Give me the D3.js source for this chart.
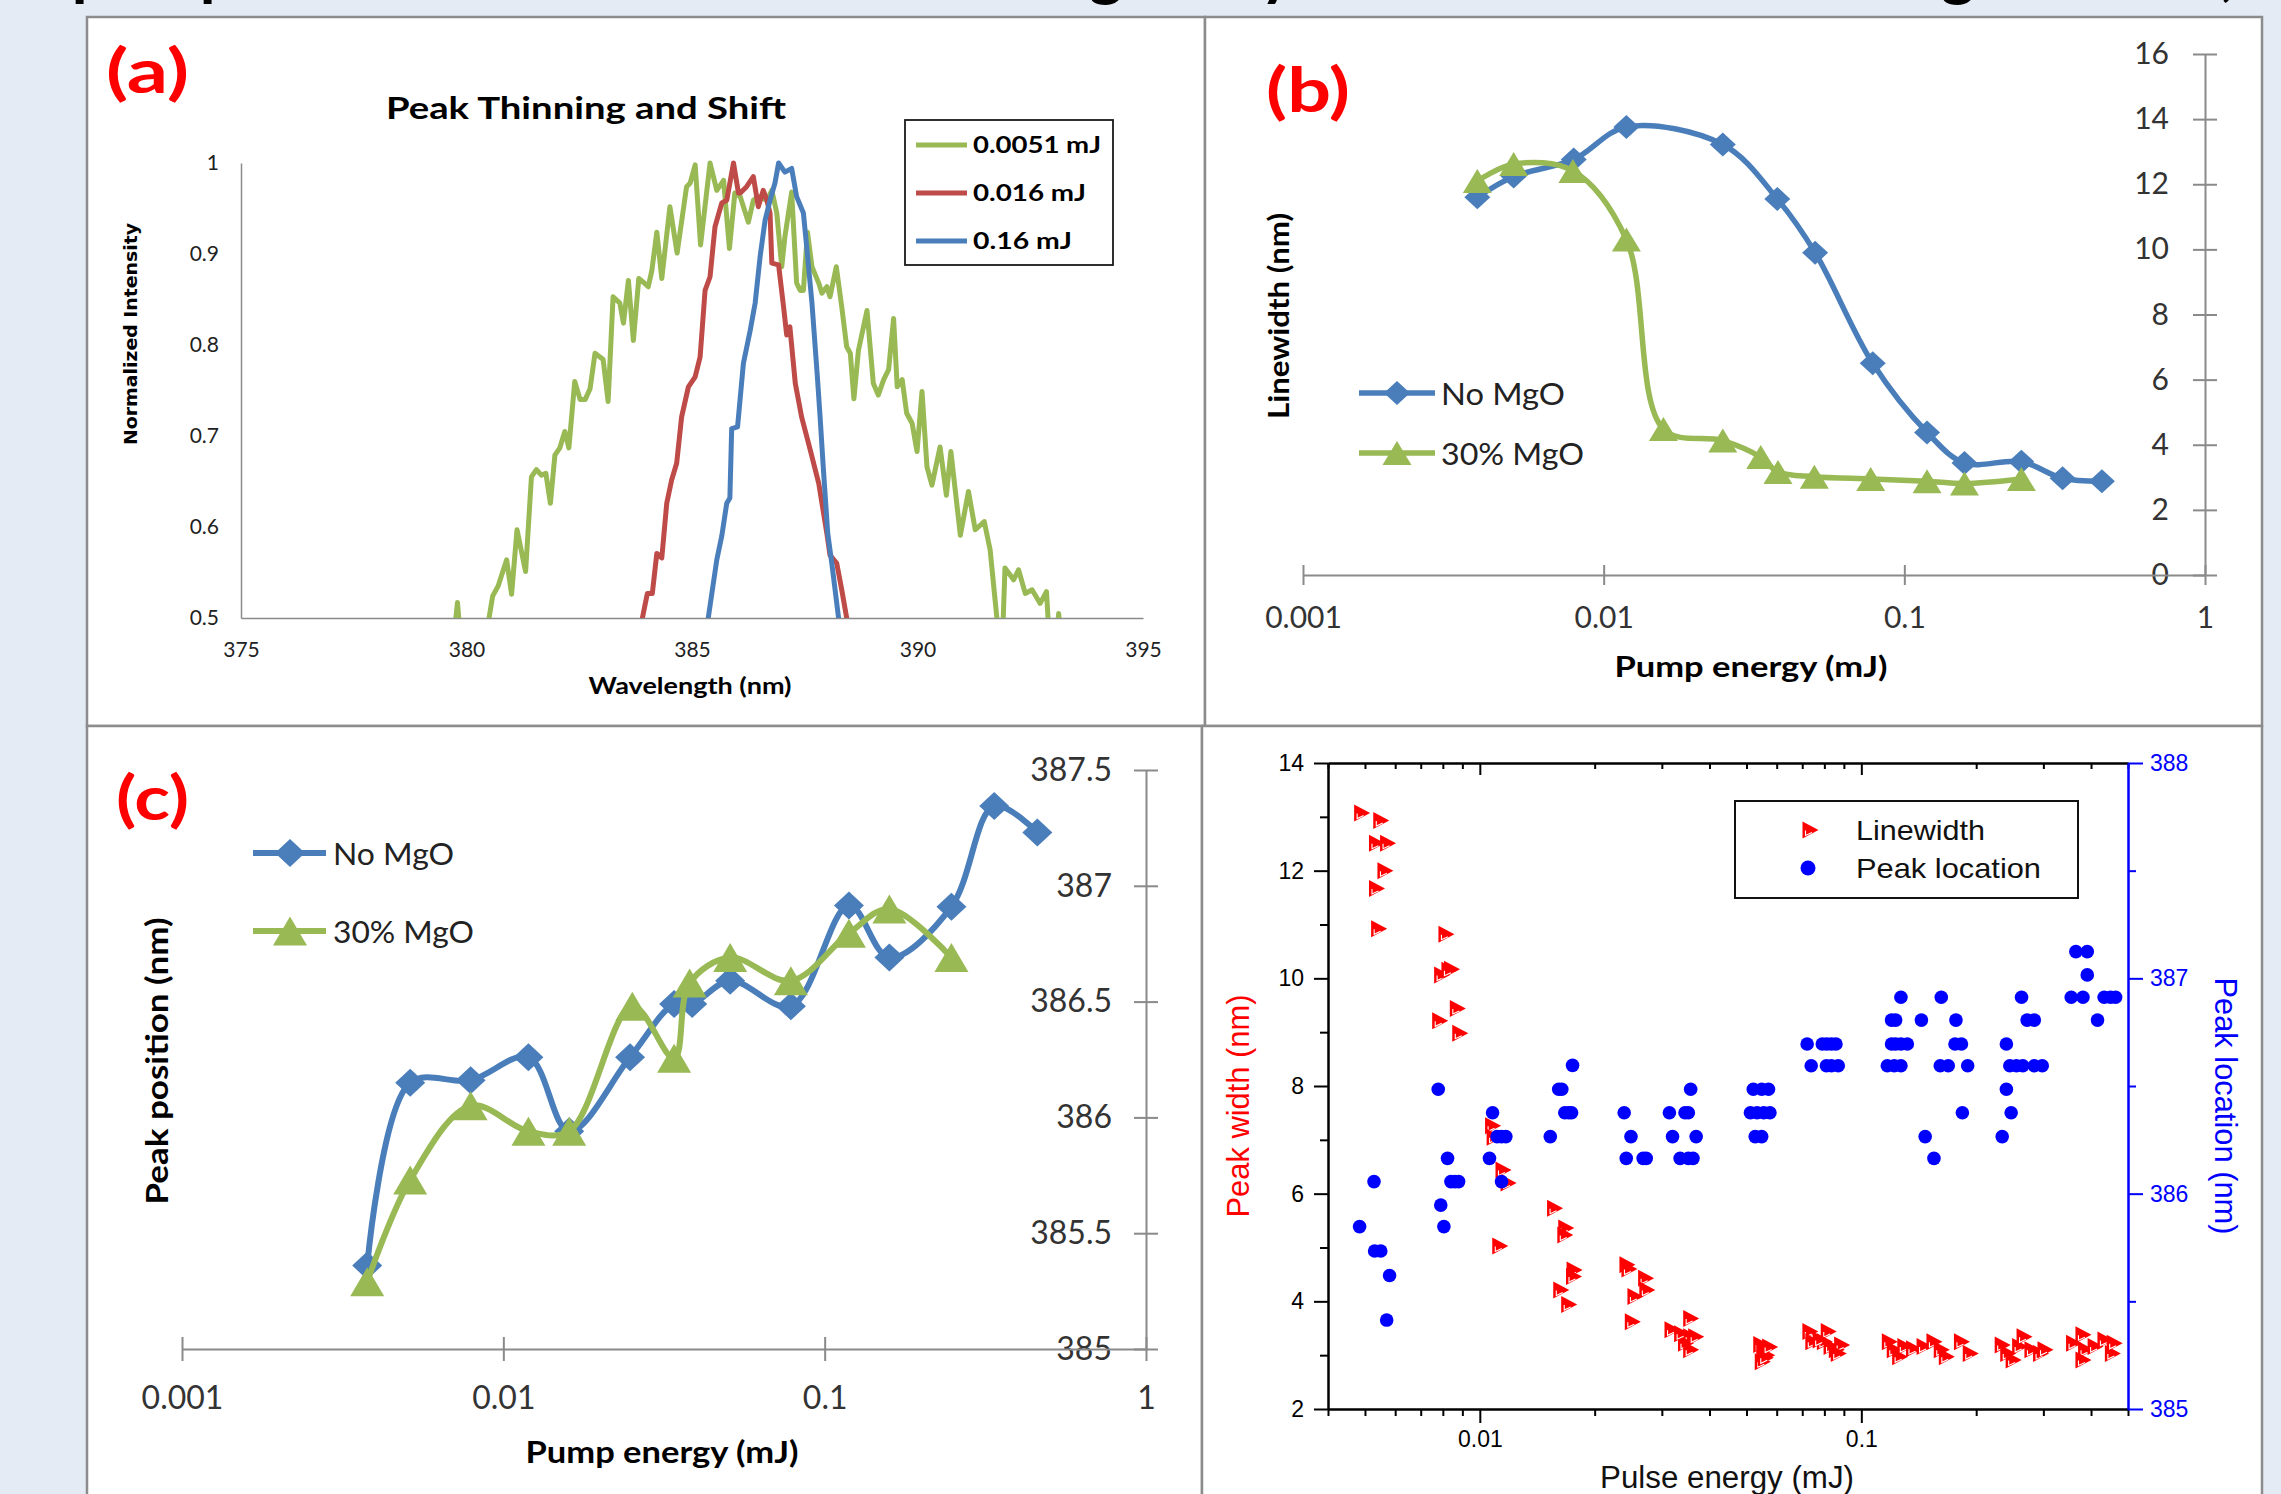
<!DOCTYPE html>
<html>
<head>
<meta charset="utf-8">
<script src="https://cdn.jsdelivr.net/npm/d3@7"></script>
<style>
body { margin: 0; background: #e4ebf5; }
svg { display: block; }
</style>
</head>
<body>
<script>
// ---------- (a) spectra : [wavelength nm, normalized intensity] ----------
var spec0051 = [[379.70,0.47],[379.80,0.517],[379.88,0.47],[380.45,0.47],[380.50,0.50],[380.58,0.524],[380.70,0.535],[380.89,0.564],[381.00,0.526],[381.12,0.597],[381.31,0.551],[381.44,0.655],[381.55,0.663],[381.66,0.657],[381.76,0.659],[381.86,0.626],[381.96,0.679],[382.07,0.687],[382.18,0.705],[382.27,0.687],[382.40,0.760],[382.52,0.740],[382.63,0.740],[382.74,0.752],[382.85,0.791],[383.03,0.784],[383.14,0.738],[383.25,0.853],[383.40,0.846],[383.48,0.824],[383.59,0.871],[383.70,0.805],[383.82,0.873],[383.92,0.869],[384.03,0.864],[384.11,0.882],[384.22,0.924],[384.33,0.873],[384.51,0.952],[384.67,0.901],[384.88,0.974],[384.96,0.978],[385.07,0.998],[385.19,0.910],[385.40,1.0],[385.55,0.970],[385.70,0.981],[385.83,0.906],[385.95,0.967],[386.07,0.963],[386.25,0.935],[386.36,0.959],[386.47,0.963],[386.66,0.959],[386.77,0.970],[386.88,0.945],[386.99,0.886],[387.06,0.919],[387.21,0.968],[387.32,0.868],[387.40,0.860],[387.47,0.860],[387.56,0.924],[387.66,0.886],[387.81,0.868],[387.88,0.857],[387.99,0.864],[388.06,0.853],[388.20,0.886],[388.32,0.842],[388.43,0.798],[388.51,0.791],[388.59,0.741],[388.69,0.794],[388.88,0.838],[389.02,0.758],[389.13,0.745],[389.25,0.762],[389.36,0.773],[389.47,0.829],[389.55,0.754],[389.66,0.762],[389.76,0.725],[389.88,0.714],[389.99,0.683],[390.10,0.749],[390.21,0.666],[390.32,0.646],[390.50,0.688],[390.64,0.635],[390.74,0.683],[390.95,0.591],[391.13,0.639],[391.28,0.597],[391.48,0.606],[391.61,0.575],[391.76,0.50],[391.80,0.47],[391.88,0.47],[391.94,0.555],[392.13,0.542],[392.24,0.553],[392.39,0.527],[392.54,0.531],[392.72,0.516],[392.86,0.529],[392.93,0.47],[393.08,0.47],[393.13,0.505],[393.20,0.47]];
var spec016 = [[383.85,0.47],[383.90,0.50],[384.01,0.527],[384.12,0.527],[384.22,0.571],[384.33,0.566],[384.44,0.626],[384.55,0.652],[384.66,0.670],[384.77,0.721],[384.92,0.754],[385.07,0.765],[385.18,0.787],[385.29,0.860],[385.40,0.875],[385.51,0.930],[385.66,0.956],[385.77,0.959],[385.84,0.978],[385.92,1.0],[386.03,0.967],[386.07,0.967],[386.21,0.974],[386.36,0.985],[386.47,0.952],[386.58,0.970],[386.66,0.959],[386.73,0.945],[386.77,0.890],[386.92,0.888],[387.03,0.842],[387.10,0.811],[387.17,0.820],[387.29,0.758],[387.43,0.721],[387.62,0.685],[387.81,0.648],[387.99,0.593],[388.06,0.569],[388.21,0.560],[388.32,0.531],[388.43,0.50],[388.48,0.47]];
var spec016b = [[385.30,0.47],[385.36,0.50],[385.55,0.564],[385.66,0.590],[385.77,0.626],[385.84,0.632],[385.88,0.708],[386.01,0.710],[386.14,0.780],[386.29,0.816],[386.40,0.846],[386.51,0.897],[386.62,0.937],[386.73,0.959],[386.84,0.978],[386.92,1.0],[387.06,0.990],[387.21,0.994],[387.32,0.963],[387.47,0.945],[387.55,0.904],[387.66,0.846],[387.78,0.765],[387.84,0.721],[387.91,0.666],[388.01,0.593],[388.10,0.560],[388.25,0.50],[388.30,0.47]];
var legendA = ['0.0051 mJ', '0.016 mJ', '0.16 mJ'];
var xTicksA = [375, 380, 385, 390, 395];
var yTicksA = [0.5, 0.6, 0.7, 0.8, 0.9, 1];

// ---------- (b) linewidth vs pump energy ----------
var energyB1 = [0.0038,0.00502,0.00795,0.0119,0.0249,0.0378,0.0505,0.0785,0.119,0.1585,0.245,0.336,0.454];
var widthB1  = [11.6,12.24,12.76,13.76,13.22,11.55,9.9,6.5,4.38,3.44,3.48,2.97,2.88];
var energyB2 = [0.0038,0.00502,0.0079,0.0119,0.0158,0.0249,0.0333,0.038,0.0502,0.0773,0.119,0.1585,0.245];
var widthB2  = [12.1,12.62,12.41,10.3,4.48,4.13,3.62,3.16,3.02,2.95,2.88,2.81,2.95];
var yTicksB = [0, 2, 4, 6, 8, 10, 12, 14, 16];
var xTicksLog = [0.001, 0.01, 0.1, 1];

// ---------- (c) peak position vs pump energy ----------
var energyC1 = [0.00377,0.00513,0.00791,0.01197,0.01603,0.0248,0.034,0.0387,0.0508,0.0785,0.119,0.159,0.248,0.337,0.459];
var posC1    = [385.36,386.15,386.16,386.26,385.94,386.26,386.49,386.49,386.59,386.48,386.915,386.69,386.91,387.345,387.23];
var energyC2 = [0.00377,0.00513,0.00791,0.01197,0.01603,0.0252,0.034,0.038,0.0508,0.0785,0.119,0.159,0.248];
var posC2    = [385.29,385.73,386.05,385.94,385.94,386.48,386.255,386.58,386.69,386.59,386.795,386.9,386.69];
var yTicksC = [385, 385.5, 386, 386.5, 387, 387.5];
var seriesNames = ['No MgO', '30% MgO'];

// ---------- (d) scatter : [pulse energy mJ, value] ----------
var lineWidthD = [[0.0049,13.07],[0.0055,12.93],[0.00536,12.51],[0.00573,12.51],[0.00564,12.0],[0.00536,11.67],[0.00543,10.92],
 [0.00815,10.82],[0.00843,10.17],[0.00794,10.06],[0.0083,10.15],[0.00873,9.44],[0.00785,9.21],[0.00886,8.98],
 [0.0108,7.26],[0.0109,7.05],[0.0115,6.44],[0.01186,6.2],[0.01128,5.03],
 [0.0157,5.73],[0.0168,5.36],[0.0167,5.23],[0.01766,4.58],[0.0176,4.46],[0.0163,4.21],[0.0171,3.94],
 [0.0243,4.68],[0.0246,4.6],[0.0272,4.43],[0.0274,4.21],[0.0255,4.09],[0.0251,3.62],
 [0.0357,3.68],[0.0319,3.47],[0.0357,3.34],[0.0346,3.22],[0.0368,3.34],[0.0357,3.1],[0.0338,3.4],
 [0.0545,3.2],[0.0555,3.1],[0.0565,3.0],[0.055,2.88],[0.0575,3.15],[0.056,2.95],
 [0.0733,3.44],[0.0819,3.44],[0.0746,3.25],[0.080,3.25],[0.0833,3.16],[0.086,3.1],[0.0888,3.19],[0.078,3.28],[0.087,3.03],
 [0.1184,3.25],[0.122,3.1],[0.126,2.97],[0.130,3.16],[0.137,3.12],[0.146,3.16],[0.155,3.25],[0.162,3.1],[0.167,2.97],[0.183,3.25],[0.193,3.03],
 [0.234,3.19],[0.242,3.03],[0.25,2.91],[0.26,3.16],[0.267,3.34],[0.28,3.1],[0.295,3.03],[0.303,3.1],
 [0.36,3.22],[0.381,3.38],[0.387,3.1],[0.381,2.91],[0.41,3.16],[0.435,3.28],[0.455,3.03],[0.46,3.22]];
var peakLocD = [[0.00484,385.847],[0.00528,386.056],[0.0053,385.734],[0.0055,385.734],[0.0058,385.62],[0.0057,385.413],
 [0.00778,386.485],[0.0079,385.947],[0.00805,385.847],[0.00823,386.164],[0.0084,386.056],[0.0086,386.056],[0.0088,386.056],
 [0.0106,386.164],[0.0108,386.376],[0.0111,386.265],[0.0114,386.265],[0.0117,386.265],[0.0114,386.056],
 [0.0153,386.265],[0.0161,386.485],[0.0164,386.485],[0.0167,386.376],[0.0171,386.376],[0.0174,386.376],[0.0175,386.596],
 [0.0239,386.376],[0.0249,386.265],[0.0242,386.164],[0.0268,386.164],[0.0273,386.164],
 [0.0314,386.376],[0.0345,386.376],[0.0352,386.376],[0.0320,386.265],[0.0369,386.265],[0.0335,386.164],[0.0352,386.164],[0.0362,386.164],[0.0357,386.485],
 [0.0521,386.485],[0.0548,386.485],[0.0571,386.485],[0.0512,386.376],[0.0533,386.376],[0.0555,386.376],[0.0576,386.376],[0.0527,386.265],[0.0548,386.265],
 [0.0721,386.695],[0.079,386.695],[0.0812,386.695],[0.0835,386.695],[0.0858,386.695],[0.0739,386.594],[0.081,386.594],[0.0835,386.594],[0.087,386.594],
 [0.117,386.594],[0.122,386.594],[0.127,386.594],[0.12,386.695],[0.123,386.695],[0.127,386.695],[0.132,386.695],[0.12,386.806],[0.123,386.806],[0.127,386.912],
 [0.1437,386.806],[0.162,386.912],[0.177,386.806],[0.176,386.695],[0.183,386.695],[0.161,386.594],[0.169,386.594],[0.19,386.594],[0.184,386.376],[0.147,386.265],[0.155,386.164],
 [0.24,386.695],[0.245,386.594],[0.255,386.594],[0.265,386.594],[0.284,386.594],[0.298,386.594],[0.263,386.912],[0.272,386.806],[0.284,386.806],[0.24,386.485],[0.247,386.376],[0.234,386.265],
 [0.365,387.124],[0.391,387.124],[0.391,387.016],[0.355,386.912],[0.381,386.912],[0.433,386.912],[0.45,386.912],[0.464,386.912],[0.416,386.806]];
var yMajorD = [2, 4, 6, 8, 10, 12, 14];
var yMinorD = [3, 5, 7, 9, 11, 13];
var y2MajorD = [385, 386, 387, 388];
var y2MinorD = [385.5, 386.5, 387.5];
var xMajorD = [0.01, 0.1];
var legendD = ['Linewidth', 'Peak location'];

// ---------------------------------------------------------------
var BLUE = '#4a7ebb', GREEN = '#98b954', RED = '#be4b48';
var XL = 'Lato', OR = 'Liberation Sans';

var svg = d3.select('body').append('svg').attr('width', 2281).attr('height', 1494);
svg.append('rect').attr('width', 2281).attr('height', 1494).attr('fill', '#e4ebf5');

// slide heading above, only its descenders are in frame
[['p',90],['p',218],['g',1106],['y',1277],['g',1958],[',',2228]].forEach(function(c){
	svg.append('text').attr('x', c[1]).attr('y', -6).attr('text-anchor','middle')
		.attr('font-family', XL).attr('font-weight','bold').attr('font-size', 64).text(c[0]);
});

[[87,17,1118,709],[1205,17,1057,709],[87,726,1115,790],[1202,726,1060,790]].forEach(function(p){
	svg.append('rect').attr('x',p[0]).attr('y',p[1]).attr('width',p[2]).attr('height',p[3])
		.attr('fill','#fff').attr('stroke','#8c8c8c').attr('stroke-width',2.5);
});

function txt(g, s, x, y, o){
	var t = g.append('text').attr('x',x).attr('y',y).text(s)
		.attr('font-family', o.ff || XL).attr('font-size', o.fs)
		.attr('font-weight', o.fw || 'normal').attr('fill', o.fill || '#000')
		.attr('text-anchor', o.anchor || 'start');
	if (o.len) t.attr('textLength', o.len).attr('lengthAdjust','spacingAndGlyphs');
	if (o.mid) t.attr('dominant-baseline','central');
	if (o.rot) t.attr('transform','rotate(' + o.rot + ',' + x + ',' + y + ')');
	return t;
}
function styleAxis(g, line, lw, textFill, ff, fs){
	g.attr('font-family', ff).attr('font-size', fs);
	g.select('.domain').attr('stroke', line).attr('stroke-width', lw);
	g.selectAll('.tick line').attr('stroke', line).attr('stroke-width', lw);
	g.selectAll('.tick text').attr('fill', textFill);
}
function diamond(w, h){ return 'M0,' + (-h) + 'L' + w + ',0L0,' + h + 'L' + (-w) + ',0Z'; }
function tri(w, h){ return 'M0,' + (-h/2) + 'L' + (w/2) + ',' + (h/2) + 'L' + (-w/2) + ',' + (h/2) + 'Z'; }

// ======================= (a) =======================
var gA = svg.append('g');
var xA = d3.scaleLinear().domain([375, 395]).range([241, 1143]);
var yA = d3.scaleLinear().domain([0.5, 1]).range([618, 163]);
gA.append('clipPath').attr('id','clipA').append('rect').attr('x',241).attr('y',120).attr('width',902).attr('height',498);

var ayA = gA.append('g').attr('transform','translate(241,0)')
	.call(d3.axisLeft(yA).tickValues(yTicksA).tickFormat(d3.format('~g')).tickSize(0).tickSizeOuter(0).tickPadding(22));
styleAxis(ayA, '#8a8a8a', 1.5, '#222', XL, 21);
var axA = gA.append('g').attr('transform','translate(0,618)')
	.call(d3.axisBottom(xA).tickValues(xTicksA).tickSize(0).tickSizeOuter(0).tickPadding(24));
styleAxis(axA, '#8a8a8a', 1.5, '#222', XL, 21);

var lineA = d3.line().x(function(d){ return xA(d[0]); }).y(function(d){ return yA(d[1]); });
[[spec0051, GREEN], [spec016, RED], [spec016b, BLUE]].forEach(function(s){
	gA.append('path').datum(s[0]).attr('d', lineA).attr('clip-path','url(#clipA)')
		.attr('fill','none').attr('stroke', s[1]).attr('stroke-width', 5)
		.attr('stroke-linejoin','round').attr('stroke-linecap','round');
});

txt(gA, '(a)', 106, 93, {fs: 62, fw: 'bold', fill: '#ff0000', len: 83});
txt(gA, 'Peak Thinning and Shift', 586, 119, {fs: 31, fw: 'bold', anchor: 'middle', len: 400});
txt(gA, 'Normalized Intensity', 131, 334, {ff: 'DejaVu Sans', fs: 17, fw: 'bold', anchor: 'middle', mid: true, rot: -90, len: 222});
txt(gA, 'Wavelength (nm)', 690, 694, {fs: 23, fw: 'bold', anchor: 'middle', len: 203});

gA.append('rect').attr('x',905).attr('y',120).attr('width',208).attr('height',145)
	.attr('fill','#fff').attr('stroke','#1a1a1a').attr('stroke-width',1.8);
var legLenA = [128, 113, 99];
[GREEN, RED, BLUE].forEach(function(c, i){
	var yy = 145 + i * 48;
	gA.append('line').attr('x1',916).attr('x2',967).attr('y1',yy).attr('y2',yy)
		.attr('stroke', c).attr('stroke-width', 5);
	txt(gA, legendA[i], 973, yy + 8, {fs: 22, fw: 'bold', len: legLenA[i]});
});

// ======================= (b) =======================
var gB = svg.append('g');
var xB = d3.scaleLog().domain([0.001, 1]).range([1303, 2205]);
var yB = d3.scaleLinear().domain([0, 16]).range([575, 54]);

var ayB = gB.append('g').attr('transform','translate(2205,0)')
	.call(d3.axisLeft(yB).tickValues(yTicksB).tickSize(12).tickSizeOuter(0).tickPadding(24));
ayB.selectAll('.tick line').attr('x1', 12);
styleAxis(ayB, '#8a8a8a', 2, '#333', XL, 30);
var axB = gB.append('g').attr('transform','translate(0,575)')
	.call(d3.axisBottom(xB).tickValues(xTicksLog).tickFormat(d3.format('~g')).tickSize(10).tickSizeOuter(0).tickPadding(22));
axB.selectAll('.tick line').attr('y1', -10);
styleAxis(axB, '#8a8a8a', 2, '#333', XL, 30);

var curveB = d3.line().curve(d3.curveCatmullRom.alpha(0.5));
function seriesPts(xs, ys, sx, sy){ return xs.map(function(e, i){ return [sx(e), sy(ys[i])]; }); }
var ptsB1 = seriesPts(energyB1, widthB1, xB, yB), ptsB2 = seriesPts(energyB2, widthB2, xB, yB);
gB.append('path').attr('d', curveB(ptsB1)).attr('fill','none').attr('stroke',BLUE).attr('stroke-width',5.5);
gB.selectAll('.mb1').data(ptsB1).enter().append('path').attr('d', diamond(13, 12))
	.attr('transform', function(d){ return 'translate(' + d + ')'; }).attr('fill', BLUE);
gB.append('path').attr('d', curveB(ptsB2)).attr('fill','none').attr('stroke',GREEN).attr('stroke-width',5.5);
gB.selectAll('.mb2').data(ptsB2).enter().append('path').attr('d', tri(29, 24))
	.attr('transform', function(d){ return 'translate(' + d + ')'; }).attr('fill', GREEN);

txt(gB, '(b)', 1266, 112, {fs: 62, fw: 'bold', fill: '#ff0000', len: 84});
txt(gB, 'Linewidth (nm)', 1277, 316, {fs: 29, fw: 'bold', anchor: 'middle', mid: true, rot: -90, len: 206});
txt(gB, 'Pump energy (mJ)', 1751, 677, {fs: 29, fw: 'bold', anchor: 'middle', len: 273});

[[BLUE, 393, 124], [GREEN, 453, 143]].forEach(function(l, i){
	gB.append('line').attr('x1',1359).attr('x2',1435).attr('y1',l[1]).attr('y2',l[1]).attr('stroke',l[0]).attr('stroke-width',5.5);
	gB.append('path').attr('d', i === 0 ? diamond(13, 12) : tri(29, 24)).attr('transform','translate(1397,' + l[1] + ')').attr('fill', l[0]);
	txt(gB, seriesNames[i], 1441, l[1], {fs: 31, mid: true, fill: '#222', len: l[2]});
});

// ======================= (c) =======================
var gC = svg.append('g');
var xC = d3.scaleLog().domain([0.001, 1]).range([182, 1146]);
var yC = d3.scaleLinear().domain([385, 387.5]).range([1349, 770]);

var ayC = gC.append('g').attr('transform','translate(1146,0)')
	.call(d3.axisLeft(yC).tickValues(yTicksC).tickFormat(d3.format('~g')).tickSize(12).tickSizeOuter(0).tickPadding(22));
ayC.selectAll('.tick line').attr('x1', 12);
styleAxis(ayC, '#8a8a8a', 2, '#333', XL, 32);
var axC = gC.append('g').attr('transform','translate(0,1349)')
	.call(d3.axisBottom(xC).tickValues(xTicksLog).tickFormat(d3.format('~g')).tickSize(12).tickSizeOuter(0).tickPadding(25));
axC.selectAll('.tick line').attr('y1', -12);
styleAxis(axC, '#8a8a8a', 2, '#333', XL, 32);

var ptsC1 = seriesPts(energyC1, posC1, xC, yC), ptsC2 = seriesPts(energyC2, posC2, xC, yC);
gC.append('path').attr('d', curveB(ptsC1)).attr('fill','none').attr('stroke',BLUE).attr('stroke-width',6);
gC.selectAll('.mc1').data(ptsC1).enter().append('path').attr('d', diamond(15, 14))
	.attr('transform', function(d){ return 'translate(' + d + ')'; }).attr('fill', BLUE);
gC.append('path').attr('d', curveB(ptsC2)).attr('fill','none').attr('stroke',GREEN).attr('stroke-width',6);
gC.selectAll('.mc2').data(ptsC2).enter().append('path').attr('d', tri(34, 29))
	.attr('transform', function(d){ return 'translate(' + d + ')'; }).attr('fill', GREEN);

txt(gC, '(c)', 116, 820, {fs: 62, fw: 'bold', fill: '#ff0000', len: 73});
txt(gC, 'Peak position (nm)', 156, 1061, {fs: 31, fw: 'bold', anchor: 'middle', mid: true, rot: -90, len: 287});
txt(gC, 'Pump energy (mJ)', 662, 1463, {fs: 30, fw: 'bold', anchor: 'middle', len: 273});

[[BLUE, 853, 121], [GREEN, 931, 141]].forEach(function(l, i){
	gC.append('line').attr('x1',253).attr('x2',326).attr('y1',l[1]).attr('y2',l[1]).attr('stroke',l[0]).attr('stroke-width',6);
	gC.append('path').attr('d', i === 0 ? diamond(15, 14) : tri(34, 29)).attr('transform','translate(290,' + l[1] + ')').attr('fill', l[0]);
	txt(gC, seriesNames[i], 333, l[1], {fs: 31, mid: true, fill: '#222', len: l[2]});
});

// ======================= (d) =======================
var gD = svg.append('g');
var xD = d3.scaleLog().domain([0.004, 0.5]).range([1328, 2128]);
var yD = d3.scaleLinear().domain([2, 14]).range([1409, 763]);
var yD2 = d3.scaleLinear().domain([385, 388]).range([1409, 763]);
var xMinorD = xD.ticks().filter(function(v){ return xMajorD.indexOf(v) < 0; });
var OBLUE = '#0000ff';

function axisD(gen, tr, color, fs){
	var a = gD.append('g').attr('transform', tr).call(gen);
	styleAxis(a, color, 2, color, OR, fs);
	return a;
}
axisD(d3.axisTop(xD).tickValues(xMajorD).tickFormat('').tickSize(-12).tickSizeOuter(0), 'translate(0,763)', '#000', 22);
axisD(d3.axisTop(xD).tickValues(xMinorD).tickFormat('').tickSize(-6).tickSizeOuter(0), 'translate(0,763)', '#000', 22);
axisD(d3.axisBottom(xD).tickValues(xMajorD).tickFormat(d3.format('~g')).tickSize(14).tickSizeOuter(0).tickPadding(8), 'translate(0,1409)', '#000', 23);
axisD(d3.axisBottom(xD).tickValues(xMinorD).tickFormat('').tickSize(7).tickSizeOuter(0), 'translate(0,1409)', '#000', 23);
axisD(d3.axisLeft(yD).tickValues(yMajorD).tickFormat(d3.format('d')).tickSize(14).tickSizeOuter(0).tickPadding(10), 'translate(1328,0)', '#000', 23);
axisD(d3.axisLeft(yD).tickValues(yMinorD).tickFormat('').tickSize(8).tickSizeOuter(0), 'translate(1328,0)', '#000', 23);
axisD(d3.axisRight(yD2).tickValues(y2MajorD).tickFormat(d3.format('d')).tickSize(15).tickSizeOuter(0).tickPadding(7), 'translate(2128,0)', OBLUE, 23);
axisD(d3.axisRight(yD2).tickValues(y2MinorD).tickFormat('').tickSize(8).tickSizeOuter(0), 'translate(2128,0)', OBLUE, 23);

function redMark(sel){
	sel.append('path').attr('d','M-7.5,-8.5L8.5,0L-7.5,8.5Z').attr('fill','#ff0000');
	sel.append('path').attr('d','M-4.5,0.5V5.5L2,2.5').attr('fill','none').attr('stroke','#fff').attr('stroke-width',1.1);
}
gD.selectAll('.lw').data(lineWidthD).enter().append('g')
	.attr('transform', function(d){ return 'translate(' + xD(d[0]) + ',' + yD(d[1]) + ')'; })
	.call(redMark);
gD.selectAll('.pl').data(peakLocD).enter().append('circle')
	.attr('cx', function(d){ return xD(d[0]); }).attr('cy', function(d){ return yD2(d[1]); })
	.attr('r', 6.8).attr('fill', OBLUE);

txt(gD, 'Peak width (nm)', 1238, 1106, {ff: OR, fs: 31, fill: '#ff0000', anchor: 'middle', mid: true, rot: -90, len: 223});
txt(gD, 'Peak location (nm)', 2225, 1106, {ff: OR, fs: 31, fill: OBLUE, anchor: 'middle', mid: true, rot: 90, len: 257});
txt(gD, 'Pulse energy (mJ)', 1727, 1488, {ff: OR, fs: 31, anchor: 'middle', fill: '#111', len: 254});

gD.append('rect').attr('x',1735).attr('y',801).attr('width',343).attr('height',97)
	.attr('fill','#fff').attr('stroke','#111').attr('stroke-width',2);
gD.append('g').attr('transform','translate(1810,830)').call(redMark);
gD.append('circle').attr('cx',1808).attr('cy',868).attr('r',7.5).attr('fill',OBLUE);
txt(gD, legendD[0], 1856, 840, {ff: OR, fs: 28, fill: '#111', len: 129});
txt(gD, legendD[1], 1856, 878, {ff: OR, fs: 28, fill: '#111', len: 185});
</script>
</body>
</html>
